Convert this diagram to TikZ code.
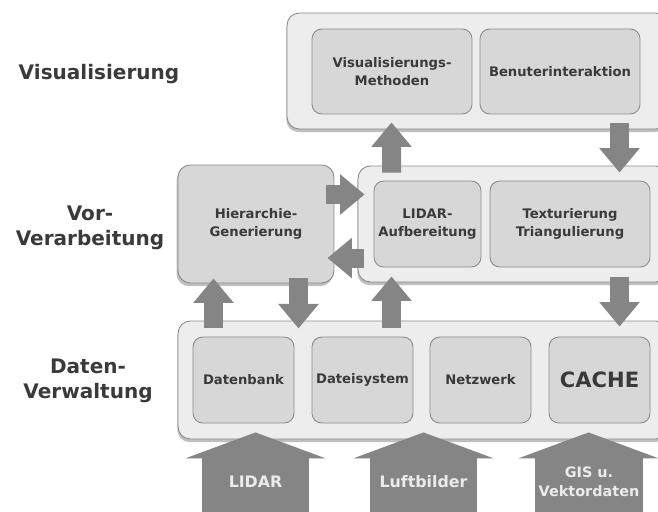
\documentclass[tikz,border=0pt]{standalone}
\usepackage{fontspec}
\setmainfont{DejaVu Sans}
\usepackage{tikz}
\usetikzlibrary{arrows.meta,shadows,calc}

\definecolor{panelgray}{HTML}{EDEDED}
\definecolor{boxgray}{HTML}{D7D7D7}
\definecolor{linegray}{HTML}{8A8A8A}
\definecolor{arrowgray}{HTML}{858585}
\definecolor{textgray}{HTML}{3A3A3A}

\tikzset{
  panel/.style = {draw=linegray, fill=panelgray, rounded corners=7pt, line width=0.5pt,
                  drop shadow={shadow xshift=-0.4pt, shadow yshift=-1.8pt, opacity=0.5}},
  inbox/.style = {draw=linegray, fill=boxgray, rounded corners=5.5pt, line width=0.5pt,
                  align=center, text=textgray, inner sep=0pt,
                  font=\bfseries\fontsize{7.5}{10.2}\selectfont},
  layer/.style = {align=center, text=textgray, font=\bfseries\fontsize{11.4}{14}\selectfont},
  fatarrow/.style = {draw=arrowgray, line width=0.38cm, -{Triangle[length=0.49cm, width=0.78cm]}},
  inarrow/.style = {draw=arrowgray, line width=2.16cm, -{Triangle[length=0.52cm, width=2.8cm]}},
  intext/.style = {align=center, text=white!92!black, font=\bfseries\fontsize{9}{11}\selectfont}
}

\begin{document}
\begin{tikzpicture}[x=0.02cm, y=-0.02cm]
        % picture frame, 1 unit = 1 pixel of the layout
        \clip (0,0) rectangle (658,511);

        % layer labels
        \node[layer] (lvis)  at (99,74)  {Visualisierung};
        \node[layer] (lvor)  at (90,228) {Vor-\\Verarbeitung};
        \node[layer] (lverw) at (88,381) {Daten-\\Verwaltung};

        % layer panels
        \node[panel, minimum width=7.62cm, minimum height=2.32cm] (vis)  at (477.5,71) {};
        \node[panel, minimum width=6.2cm,  minimum height=2.32cm] (vorv) at (513,224)  {};
        \node[panel, minimum width=9.8cm,  minimum height=2.36cm] (verw) at (423,380)  {};
        \node[inbox, rounded corners=7pt, minimum width=3.12cm, minimum height=2.36cm,
              drop shadow={shadow xshift=-0.8pt, shadow yshift=-1.8pt, opacity=0.5}]
              (hier) at (256,224) {Hierarchie-\\Generierung};

        % visualisation
        \node[inbox, minimum width=3.2cm, minimum height=1.7cm] (vismeth) at (392,71.5) {Visualisierungs-\\Methoden};
        \node[inbox, minimum width=3.2cm, minimum height=1.7cm] (benutz)  at (560,71.5) {Benuterinteraktion};

        % preprocessing
        \node[inbox, minimum width=2.14cm, minimum height=1.72cm] (lidar)  at (427.5,224) {LIDAR-\\Aufbereitung};
        \node[inbox, minimum width=3.2cm,  minimum height=1.72cm] (textur) at (570,224)   {Texturierung\\Triangulierung};

        % data management
        \node[inbox, minimum width=2.02cm, minimum height=1.72cm] (dbank) at (243.5,380) {Datenbank};
        \node[inbox, minimum width=2.02cm, minimum height=1.72cm] (dsys)  at (362.5,380) {Dateisystem};
        \node[inbox, minimum width=2.02cm, minimum height=1.72cm] (netz)  at (480.5,380) {Netzwerk};
        \node[inbox, minimum width=2.02cm, minimum height=1.72cm,
              font=\bfseries\fontsize{12}{14}\selectfont] (cache) at (599.5,380) {CACHE};

        % arrows between the layers
        \draw[fatarrow] ($(hier.south)+(-42.5,45)$) -- ($(hier.south)+(-42.5,-5)$);
        \draw[fatarrow] ($(hier.south)+(42.5,-5)$) -- ($(hier.south)+(42.5,45)$);
        \draw[fatarrow] ($(lidar.south)+(-36,61)$) -- ($(lidar.south)+(-36,9)$);
        \draw[fatarrow] ($(textur.south)+(49.5,10)$) -- ($(cache.north)+(20,-10)$);
        \draw[fatarrow] ($(lidar.north)+(-36,-8)$) -- ($(vismeth.south)+(-0.5,8)$);
        \draw[fatarrow] ($(benutz.south)+(59.5,9)$) -- ($(textur.north)+(49.5,-8)$);
        \draw[fatarrow] ($(hier.east)+(-8,-29.5)$) -- ($(lidar.west)+(-9,-29.5)$);
        \draw[fatarrow] ($(lidar.west)+(-10,34)$) -- ($(hier.east)+(-7,34)$);

        % data sources
        \coordinate (srclidar) at (255.5,516);
        \coordinate (srcluft)  at (423.5,516);
        \coordinate (srcgis)   at (588.5,516);
        \draw[inarrow] (srclidar) -- ($(verw.south -| srclidar)+(0,-7)$);
        \draw[inarrow] (srcluft)  -- ($(verw.south -| srcluft)+(0,-7)$);
        \draw[inarrow] (srcgis)   -- ($(verw.south -| srcgis)+(0,-7)$);
        \node[intext] (tlidar) at (255.5,482) {LIDAR};
        \node[intext] (tluft)  at (423.5,482) {Luftbilder};
        \node[intext, font=\bfseries\fontsize{8.2}{11}\selectfont] (tgis) at (589,482) {GIS u.\\Vektordaten};
\end{tikzpicture}
\end{document}
